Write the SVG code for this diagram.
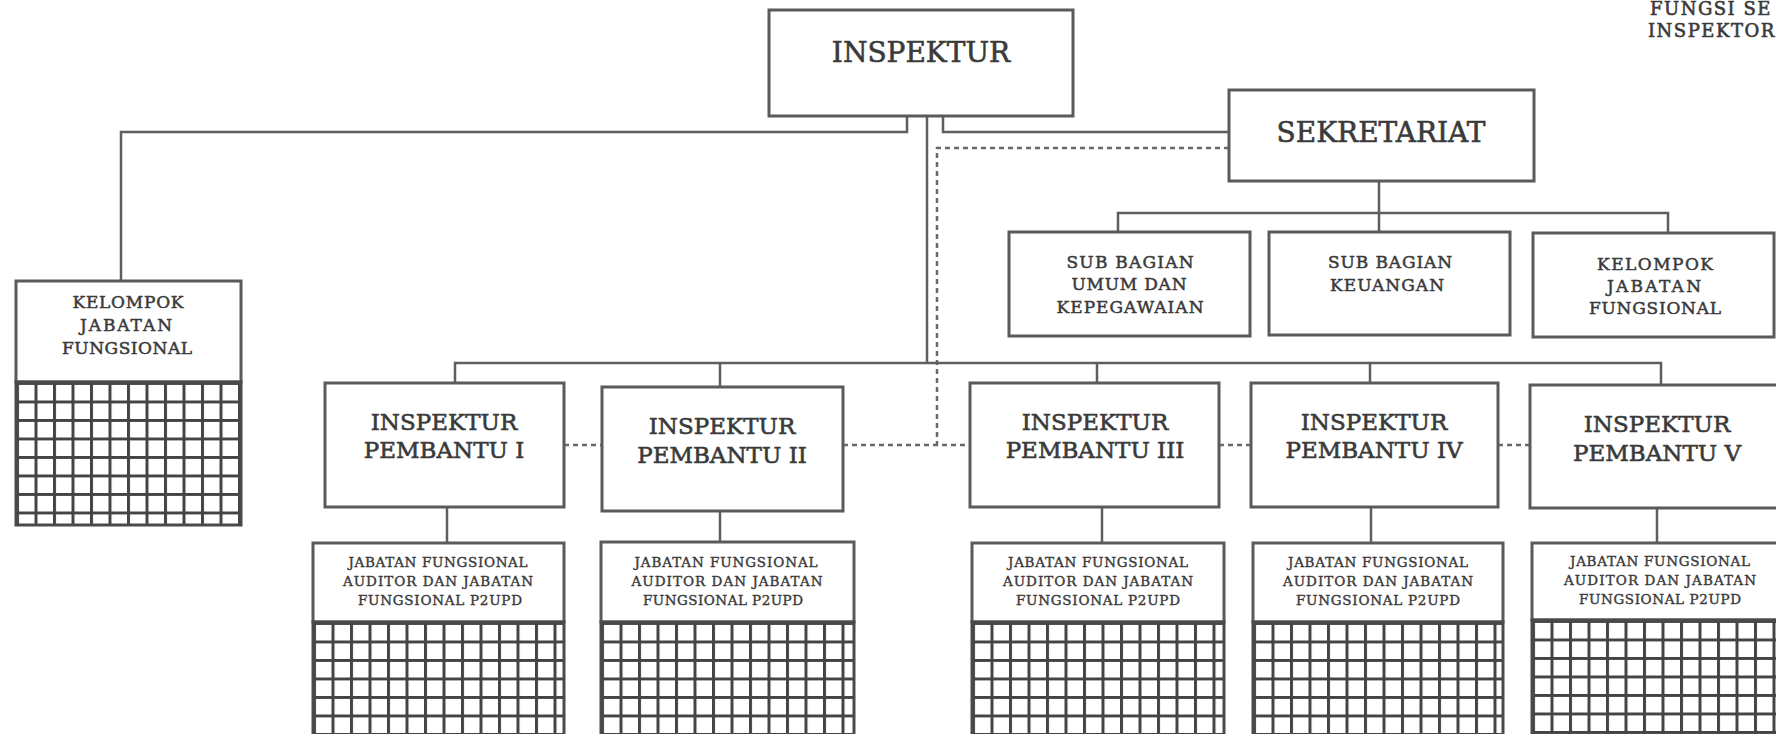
<svg xmlns="http://www.w3.org/2000/svg" width="1776" height="734" viewBox="0 0 1776 734">
<style>
.box{fill:#fff;stroke:#5a5a5a;stroke-width:3}
.ln{fill:none;stroke:#5e5e5e;stroke-width:2.5}
.dash{fill:none;stroke:#6a6a6a;stroke-width:2.5;stroke-dasharray:5 4}
text{font-family:"DejaVu Serif","Liberation Serif",serif;fill:#3a3a3a;stroke:#3a3a3a;stroke-width:0.6;text-anchor:middle}
.t1{font-size:28px}
.t3{font-size:23px}
.t4{font-size:17px;stroke-width:0.5}
.t5{font-size:13.5px;stroke-width:0.4}
.t6{font-size:18px;text-anchor:start;letter-spacing:1.5px}
</style>
<defs>
<pattern id="grid" width="18.5" height="18.5" patternUnits="userSpaceOnUse">
<rect width="18.5" height="18.5" fill="#fff"/>
<path d="M1.5 0V18.5M0 1.5H18.5" stroke="#444" stroke-width="3"/>
</pattern>
</defs>
<rect width="1776" height="734" fill="#fff"/>

<g id="connectors">
<path class="ln" d="M907 116V132H121V281"/>
<path class="ln" d="M943 116V132H1229"/>
<path class="ln" d="M927 116V363"/>
<path class="dash" d="M1229 148H937V445"/>
<path class="dash" d="M843 445H970"/>
<path class="dash" d="M564 445H602"/>
<path class="dash" d="M1219 445H1251"/>
<path class="dash" d="M1498 445H1530"/>
<path class="ln" d="M455 383V363H1661V385"/>
<path class="ln" d="M720 363V387"/>
<path class="ln" d="M1097 363V383"/>
<path class="ln" d="M1370 363V383"/>
<path class="ln" d="M447 507V543"/>
<path class="ln" d="M720 511V542"/>
<path class="ln" d="M1102 507V543"/>
<path class="ln" d="M1371 507V543"/>
<path class="ln" d="M1657 508V543"/>
<path class="ln" d="M1379 181V232"/>
<path class="ln" d="M1118 232V213H1668V233"/>
</g>

<g id="fungsi-note">
<text class="t6" x="1650" y="15">FUNGSI  SE</text>
<text class="t6" x="1648" y="37">INSPEKTOR</text>
</g>

<g id="inspektur">
<rect class="box" x="769" y="10" width="304" height="106"/>
<text class="t1" x="921" y="62">INSPEKTUR</text>
</g>

<g id="sekretariat">
<rect class="box" x="1229" y="90" width="305" height="91"/>
<text class="t1" x="1381" y="142">SEKRETARIAT</text>
</g>

<g id="subbag-umum">
<rect class="box" x="1009" y="232" width="241" height="104"/>
<text class="t4" x="1130" y="268" textLength="127">SUB BAGIAN</text>
<text class="t4" x="1129" y="290" textLength="115">UMUM DAN</text>
<text class="t4" x="1130" y="313" textLength="147">KEPEGAWAIAN</text>
</g>

<g id="subbag-keuangan">
<rect class="box" x="1269" y="232" width="241" height="103"/>
<text class="t4" x="1390" y="268" textLength="124">SUB BAGIAN</text>
<text class="t4" x="1387" y="291" textLength="114">KEUANGAN</text>
</g>

<g id="kelompok-sekretariat">
<rect class="box" x="1533" y="233" width="241" height="104"/>
<text class="t4" x="1655" y="270" textLength="116">KELOMPOK</text>
<text class="t4" x="1654" y="292" textLength="94">JABATAN</text>
<text class="t4" x="1655" y="314" textLength="132">FUNGSIONAL</text>
</g>

<g id="kelompok-inspektur">
<rect class="box" x="16" y="281" width="225" height="101"/>
<text class="t4" x="128" y="308" textLength="111">KELOMPOK</text>
<text class="t4" x="126" y="331" textLength="92">JABATAN</text>
<text class="t4" x="127" y="354" textLength="130">FUNGSIONAL</text>
<g transform="translate(16,382)"><rect width="225" height="143" fill="url(#grid)" stroke="#4a4a4a" stroke-width="3"/></g>
</g>

<g id="pembantu-1">
<rect class="box" x="325" y="383" width="239" height="124"/>
<text class="t3" x="444" y="430">INSPEKTUR</text>
<text class="t3" x="444" y="458">PEMBANTU I</text>
</g>
<g id="pembantu-2">
<rect class="box" x="602" y="387" width="241" height="124"/>
<text class="t3" x="722" y="434">INSPEKTUR</text>
<text class="t3" x="722" y="463">PEMBANTU II</text>
</g>
<g id="pembantu-3">
<rect class="box" x="970" y="383" width="249" height="124"/>
<text class="t3" x="1095" y="430">INSPEKTUR</text>
<text class="t3" x="1095" y="458">PEMBANTU III</text>
</g>
<g id="pembantu-4">
<rect class="box" x="1251" y="383" width="247" height="124"/>
<text class="t3" x="1374" y="430">INSPEKTUR</text>
<text class="t3" x="1374" y="458">PEMBANTU IV</text>
</g>
<g id="pembantu-5">
<rect class="box" x="1530" y="385" width="256" height="123"/>
<text class="t3" x="1657" y="432">INSPEKTUR</text>
<text class="t3" x="1657" y="461">PEMBANTU V</text>
</g>

<g id="jabatan-1">
<rect class="box" x="313" y="543" width="251" height="79"/>
<text class="t5" x="438" y="567" textLength="179">JABATAN FUNGSIONAL</text>
<text class="t5" x="438" y="586" textLength="190">AUDITOR DAN JABATAN</text>
<text class="t5" x="440" y="605" textLength="164">FUNGSIONAL P2UPD</text>
<g transform="translate(313,622)"><rect width="251" height="120" fill="url(#grid)" stroke="#4a4a4a" stroke-width="3"/></g>
</g>
<g id="jabatan-2">
<rect class="box" x="601" y="542" width="253" height="80"/>
<text class="t5" x="726" y="567" textLength="183">JABATAN FUNGSIONAL</text>
<text class="t5" x="727" y="586" textLength="191">AUDITOR DAN JABATAN</text>
<text class="t5" x="723" y="605" textLength="160">FUNGSIONAL  P2UPD</text>
<g transform="translate(601,622)"><rect width="253" height="120" fill="url(#grid)" stroke="#4a4a4a" stroke-width="3"/></g>
</g>
<g id="jabatan-3">
<rect class="box" x="972" y="543" width="252" height="79"/>
<text class="t5" x="1098" y="567" textLength="180">JABATAN FUNGSIONAL</text>
<text class="t5" x="1098" y="586" textLength="190">AUDITOR DAN JABATAN</text>
<text class="t5" x="1098" y="605" textLength="164">FUNGSIONAL  P2UPD</text>
<g transform="translate(972,622)"><rect width="252" height="120" fill="url(#grid)" stroke="#4a4a4a" stroke-width="3"/></g>
</g>
<g id="jabatan-4">
<rect class="box" x="1253" y="543" width="250" height="79"/>
<text class="t5" x="1378" y="567" textLength="180">JABATAN FUNGSIONAL</text>
<text class="t5" x="1378" y="586" textLength="190">AUDITOR DAN JABATAN</text>
<text class="t5" x="1378" y="605" textLength="164">FUNGSIONAL P2UPD</text>
<g transform="translate(1253,622)"><rect width="250" height="120" fill="url(#grid)" stroke="#4a4a4a" stroke-width="3"/></g>
</g>
<g id="jabatan-5">
<rect class="box" x="1532" y="543" width="256" height="77"/>
<text class="t5" x="1660" y="566" textLength="180">JABATAN FUNGSIONAL</text>
<text class="t5" x="1660" y="585" textLength="192">AUDITOR DAN JABATAN</text>
<text class="t5" x="1660" y="604" textLength="162">FUNGSIONAL P2UPD</text>
<g transform="translate(1532,620)"><rect width="256" height="122" fill="url(#grid)" stroke="#4a4a4a" stroke-width="3"/></g>
</g>
</svg>
